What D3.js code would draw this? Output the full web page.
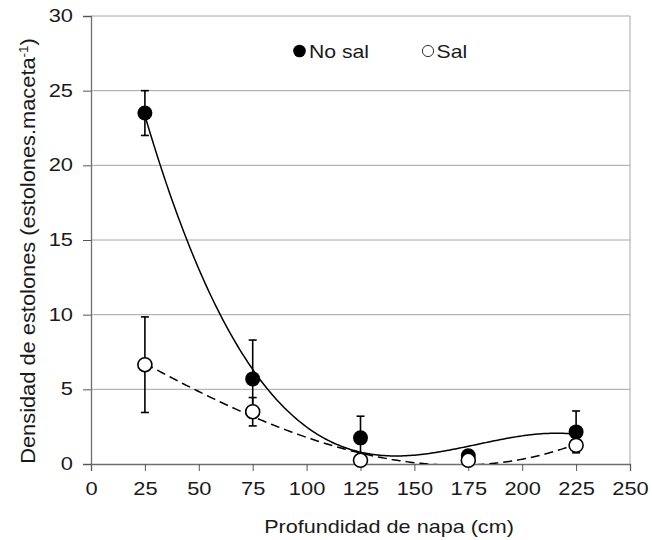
<!DOCTYPE html>
<html>
<head>
<meta charset="utf-8">
<script src="https://cdn.jsdelivr.net/npm/d3@7"></script>
<style>
  body { margin: 0; background: #fff; }
  svg { font-family: 'Liberation Sans', Arial, sans-serif; }
</style>
</head>
<body>
<script>
// Data
const DEPTHS = [25, 75, 125, 175, 225]
const NO_SAL = [23.5, 5.7, 1.75, 0.55, 2.15]
const NO_SAL_ERR = [1.5, 2.6, 1.45, 0.2, 1.4]
const SAL = [6.65, 3.5, 0.25, 0.25, 1.25]
const SAL_ERR = [3.2, 0.95, 0.2, 0.1, 0.2]
const X_TICKS = [0, 25, 50, 75, 100, 125, 150, 175, 200, 225, 250]
const Y_TICKS = [0, 5, 10, 15, 20, 25, 30]

const width = 652
const height = 540
const margin = { top: 16, right: 22, bottom: 76, left: 91 }
const TEXT = '#1a1a1a'

// cubic least squares trendline (like the spreadsheet's polynomial fit)
function polyFit(xs, ys, order) {
  const n = order + 1
  const A = d3.range(n).map(() => new Array(n + 1).fill(0))
  xs.forEach((x, k) => {
    for (let i = 0; i < n; i++) {
      for (let j = 0; j < n; j++) A[i][j] += Math.pow(x, i + j)
      A[i][n] += ys[k] * Math.pow(x, i)
    }
  })
  for (let i = 0; i < n; i++) {
    let p = i
    for (let r = i + 1; r < n; r++) if (Math.abs(A[r][i]) > Math.abs(A[p][i])) p = r
    ;[A[i], A[p]] = [A[p], A[i]]
    for (let r = 0; r < n; r++) {
      if (r === i) continue
      const f = A[r][i] / A[i][i]
      for (let c = i; c <= n; c++) A[r][c] -= f * A[i][c]
    }
  }
  const coef = A.map((row, i) => row[n] / row[i])
  return x => coef.reduce((s, c, i) => s + c * Math.pow(x, i), 0)
}

// text placed at (x, y) and widened a bit, the original font is broad
function label(parent, x, y, str, size, sx, anchor) {
  return parent.append('text')
    .attr('transform', `translate(${x},${y}) scale(${sx},1)`)
    .attr('text-anchor', anchor || 'start')
    .attr('font-size', size)
    .attr('fill', TEXT)
    .text(str)
}

const svg = d3.select('body').append('svg')
  .attr('width', width)
  .attr('height', height)

const x = d3.scaleLinear().domain([0, 250]).range([margin.left, width - margin.right])
const y = d3.scaleLinear().domain([0, 30]).range([height - margin.bottom, margin.top])

// Gridlines
svg.append('g')
  .selectAll('line')
  .data(Y_TICKS.slice(1))
  .enter()
  .append('line')
  .attr('x1', x(0))
  .attr('x2', x(250))
  .attr('y1', d => y(d))
  .attr('y2', d => y(d))
  .attr('stroke', '#a6a6a6')
  .attr('stroke-width', 1)

// Right border
svg.append('line')
  .attr('x1', x(250)).attr('x2', x(250))
  .attr('y1', y(0)).attr('y2', y(30))
  .attr('stroke', '#a6a6a6')

// Axes
const tickSx = 1.25
const xAxis = svg.append('g')
  .attr('transform', `translate(0,${y(0)})`)
  .call(d3.axisBottom(x).tickValues(X_TICKS).tickSize(7).tickPadding(11.5))
const yAxis = svg.append('g')
  .attr('transform', `translate(${x(0)},0)`)
  .call(d3.axisLeft(y).tickValues(Y_TICKS).tickSize(8).tickPadding(10))

;[xAxis, yAxis].forEach(a => {
  a.select('.domain').attr('stroke', '#6e6e6e').attr('stroke-width', 1.3)
  a.selectAll('.tick line').attr('stroke', '#555')
  a.selectAll('.tick text')
    .attr('font-size', 17.5)
    .attr('fill', TEXT)
    .attr('font-family', "'Liberation Sans', Arial, sans-serif")
    .attr('transform', `scale(${tickSx},1)`)
})
yAxis.selectAll('.tick text').attr('x', -18 / tickSx)

// Trendlines
svg.append('clipPath').attr('id', 'plot-clip')
  .append('rect')
  .attr('x', x(0)).attr('y', y(30))
  .attr('width', x(250) - x(0)).attr('height', y(0) - y(30))

const line = d3.line().x(d => x(d[0])).y(d => y(d[1]))
const fitNoSal = polyFit(DEPTHS, NO_SAL, 3)
const fitSal = polyFit(DEPTHS, SAL, 3)
const xs = d3.range(25, 225.5, 1)

svg.append('path')
  .attr('clip-path', 'url(#plot-clip)')
  .attr('d', line(xs.map(v => [v, fitNoSal(v)])))
  .attr('fill', 'none')
  .attr('stroke', '#000')
  .attr('stroke-width', 1.5)

svg.append('path')
  .attr('clip-path', 'url(#plot-clip)')
  .attr('d', line(xs.map(v => [v, fitSal(v)])))
  .attr('fill', 'none')
  .attr('stroke', '#000')
  .attr('stroke-width', 1.5)
  .attr('stroke-dasharray', '9,5')

// Error bars
function errorBars(vals, errs) {
  const g = svg.append('g').attr('stroke', '#000').attr('stroke-width', 1.6)
  DEPTHS.forEach((d, i) => {
    const top = y(vals[i] + errs[i])
    const bot = y(Math.max(0, vals[i] - errs[i]))
    g.append('line').attr('x1', x(d)).attr('x2', x(d)).attr('y1', top).attr('y2', bot)
    g.append('line').attr('x1', x(d) - 4).attr('x2', x(d) + 4).attr('y1', top).attr('y2', top)
    g.append('line').attr('x1', x(d) - 4).attr('x2', x(d) + 4).attr('y1', bot).attr('y2', bot)
  })
}
errorBars(NO_SAL, NO_SAL_ERR)
errorBars(SAL, SAL_ERR)

// Markers
svg.append('g')
  .selectAll('circle')
  .data(NO_SAL)
  .enter()
  .append('circle')
  .attr('cx', (_, i) => x(DEPTHS[i]))
  .attr('cy', d => y(d))
  .attr('r', 7.5)
  .attr('fill', '#000')

svg.append('g')
  .selectAll('circle')
  .data(SAL)
  .enter()
  .append('circle')
  .attr('cx', (_, i) => x(DEPTHS[i]))
  .attr('cy', d => y(d))
  .attr('r', 7)
  .attr('fill', '#fff')
  .attr('stroke', '#000')
  .attr('stroke-width', 1.6)

// Legend
const legend = svg.append('g')
legend.append('circle').attr('cx', 299.5).attr('cy', 51).attr('r', 6.3).attr('fill', '#000')
label(legend, 309, 57.5, 'No sal', 18.6, 1.14)
legend.append('circle').attr('cx', 428).attr('cy', 51).attr('r', 5.6)
  .attr('fill', '#fff').attr('stroke', '#333').attr('stroke-width', 1)
label(legend, 436.5, 57.5, 'Sal', 18.6, 1.14)

// Axis titles
label(svg, 389, 533, 'Profundidad de napa (cm)', 18, 1.2, 'middle')

const yTitle = svg.append('text')
  .attr('transform', 'translate(35,251) rotate(-90) scale(1.12,1)')
  .attr('text-anchor', 'middle')
  .attr('font-size', 19.5)
  .attr('fill', TEXT)
yTitle.append('tspan').text('Densidad de estolones (estolones.maceta')
yTitle.append('tspan').attr('font-size', 12).attr('dy', -7).text('-1')
yTitle.append('tspan').attr('dy', 7).text(')')
</script>
</body>
</html>
